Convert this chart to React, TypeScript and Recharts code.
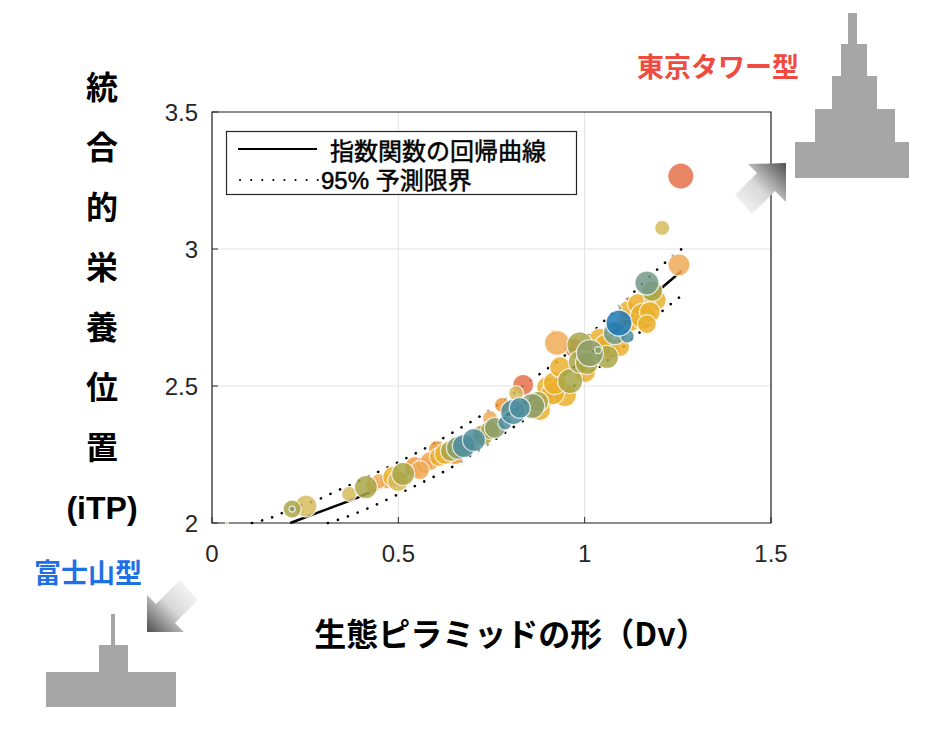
import React from 'react';
import { CartesianGrid, ComposedChart, Line, ReferenceArea, Scatter, XAxis, YAxis } from 'recharts';

const xTicks = [0, 0.5, 1, 1.5];
const yTicks = [2, 2.5, 3, 3.5];

// regression curve and 95% prediction bounds
const fitX = [0.21, 0.3, 0.4, 0.5, 0.6, 0.7, 0.8, 0.9, 1.0, 1.1, 1.2, 1.26];
const fitY = [2.0, 2.046, 2.098, 2.162, 2.232, 2.31, 2.4, 2.495, 2.6, 2.72, 2.85, 2.92];
const upperX = [0.107, 0.164, 0.223, 0.282, 0.335, 0.445, 0.553, 0.657, 0.762, 0.861, 0.91, 1.006, 1.1, 1.202, 1.26];
const upperY = [2.0, 2.022, 2.058, 2.084, 2.117, 2.186, 2.259, 2.339, 2.427, 2.526, 2.573, 2.679, 2.8, 2.934, 3.0];
const lowerX = [0.311, 0.368, 0.421, 0.478, 0.534, 0.588, 0.644, 0.72, 0.818, 0.93, 1.04, 1.14, 1.202, 1.26];
const lowerY = [2.0, 2.026, 2.055, 2.091, 2.128, 2.164, 2.204, 2.27, 2.358, 2.46, 2.57, 2.686, 2.766, 2.83];

// [Dv, iTP, bubble radius]
type Pt = [number, number, number];
const redOrange: Pt[] = [[0.835, 2.504, 10.5], [0.971, 2.639, 9.5], [1.258, 3.266, 13], [1.116, 2.818, 2]];
const orange: Pt[] = [
  [0.47, 2.153, 7.5], [0.545, 2.204, 10.5], [0.569, 2.212, 8.5], [0.604, 2.27, 8.5], [0.778, 2.431, 7.5],
  [0.915, 2.697, 2.5], [1.073, 2.631, 8.5], [0.738, 2.328, 7.5], [0.692, 2.285, 8.5], [0.652, 2.248, 9.5],
];
const lightOrange: Pt[] = [
  [0.432, 2.139, 7.5], [0.448, 2.153, 7.5], [0.585, 2.226, 9.5], [0.558, 2.193, 9.5], [0.746, 2.383, 7.5],
  [0.926, 2.657, 12.5], [1.253, 2.942, 11],
];
const yellow: Pt[] = [
  [0.486, 2.168, 10.5], [0.609, 2.241, 9.5], [0.625, 2.252, 10.5], [0.899, 2.496, 10.5], [0.899, 2.449, 7.5],
  [0.88, 2.412, 10.5], [0.947, 2.467, 11.5], [0.915, 2.474, 11.5], [0.92, 2.511, 11.5], [0.934, 2.569, 10.5],
  [1.001, 2.551, 10.5], [1.041, 2.668, 11.5], [1.055, 2.65, 10.5], [1.095, 2.642, 9.5], [1.122, 2.741, 11.5],
  [1.116, 2.777, 9.5], [1.143, 2.799, 10.5], [1.189, 2.814, 11], [1.157, 2.755, 13], [1.175, 2.77, 10.5],
  [1.167, 2.726, 9.5],
];
const khaki: Pt[] = [[0.04, 2.0, 1.5], [0.252, 2.062, 11], [0.368, 2.106, 7.5], [0.499, 2.153, 10.5], [0.816, 2.474, 7.5], [1.208, 3.077, 7.5]];
const olive: Pt[] = [
  [0.215, 2.051, 9], [0.413, 2.131, 11.5], [0.513, 2.179, 11.5], [0.641, 2.263, 10.5], [0.727, 2.321, 10.5],
  [0.746, 2.339, 9.5], [0.875, 2.442, 10.5], [0.961, 2.518, 12.5], [0.987, 2.65, 13], [0.987, 2.588, 11.5],
  [1.006, 2.584, 11.5], [1.06, 2.606, 11.5], [1.181, 2.847, 10.5],
];
const sage: Pt[] = [[0.215, 2.051, 3], [0.66, 2.274, 11.5], [0.759, 2.347, 10.5], [0.859, 2.427, 12.5], [1.014, 2.62, 13.5], [1.036, 2.631, 3.5], [1.095, 2.785, 2]];
const grayGreen: Pt[] = [[1.081, 2.693, 11.5], [1.167, 2.876, 12]];
const teal: Pt[] = [[0.676, 2.281, 11.5], [0.703, 2.303, 11.5], [0.786, 2.365, 7], [0.808, 2.405, 12.5], [0.826, 2.42, 10.5], [1.114, 2.682, 7]];
const blue: Pt[] = [[1.092, 2.73, 13]];

const groups = [
  { key: 'redOrange', color: '#E3704A', pts: redOrange },
  { key: 'orange', color: '#EE9A3A', pts: orange },
  { key: 'lightOrange', color: '#F0AA58', pts: lightOrange },
  { key: 'yellow', color: '#EAB02E', pts: yellow },
  { key: 'khaki', color: '#D6BB5C', pts: khaki },
  { key: 'olive', color: '#A9A647', pts: olive },
  { key: 'sage', color: '#8C9D68', pts: sage },
  { key: 'grayGreen', color: '#739A88', pts: grayGreen },
  { key: 'teal', color: '#4D8D9D', pts: teal },
  { key: 'blue', color: '#1D78B6', pts: blue },
];

const zip = (xs: number[], ys: number[]) => xs.map((x, i) => ({ x, y: ys[i] }));

const TICK = { fill: '#262626', fontSize: 24, fontFamily: 'Liberation Sans, Arial, sans-serif' };
const JP = '"Noto Sans CJK JP", sans-serif';
const yLabel = ['統', '合', '的', '栄', '養', '位', '置', '(iTP)'];

const Bubble = (props: any) => {
  const { cx, cy, payload, color } = props;
  if (cx == null || cy == null) return null;
  return (
    <circle cx={cx} cy={cy} r={payload.r} fill={color} fillOpacity={0.85}
      stroke="#ffffff" strokeOpacity={0.75} strokeWidth={1.3} />
  );
};

export default function App() {
  return (
    <div style={{ position: 'absolute', left: 0, top: 0, width: 934, height: 732, background: '#fff' }}>
      <ComposedChart width={934} height={732} margin={{ top: 112, right: 163, bottom: 179, left: 152 }}
        style={{ position: 'absolute', left: 0, top: 0 }}>
        <CartesianGrid stroke="#E2E2E2" strokeWidth={1} />
        <XAxis type="number" dataKey="x" domain={[0, 1.5]} ticks={xTicks} interval={0} height={30}
          axisLine={false} tickSize={-6} tickMargin={28} tickLine={{ stroke: '#262626' }} tick={TICK} />
        <YAxis type="number" dataKey="y" domain={[2, 3.5]} ticks={yTicks} interval={0} width={60}
          axisLine={false} tickSize={-6} tickMargin={20} tickLine={{ stroke: '#262626' }} tick={TICK} />
        <Line data={zip(fitX, fitY)} dataKey="y" type="monotone" stroke="#000" strokeWidth={2.5}
          dot={false} activeDot={false} isAnimationActive={false} />
        <Line data={zip(upperX, upperY)} dataKey="y" type="monotone" stroke="#000" strokeWidth={2.6}
          strokeDasharray="0.1 10.4" strokeLinecap="round" dot={false} activeDot={false} isAnimationActive={false} />
        <Line data={zip(lowerX, lowerY)} dataKey="y" type="monotone" stroke="#000" strokeWidth={2.6}
          strokeDasharray="0.1 10.4" strokeLinecap="round" dot={false} activeDot={false} isAnimationActive={false} />
        {groups.map((g) => (
          <Scatter key={g.key} data={g.pts.map(([x, y, r]) => ({ x, y, r }))} fill={g.color}
            shape={(p: any) => <Bubble {...p} color={g.color} />} isAnimationActive={false} />
        ))}
        <ReferenceArea x1={0} x2={1.5} y1={2} y2={3.5} fill="none" stroke="#262626" strokeWidth={1.2} />
      </ComposedChart>

      <svg width={934} height={732} style={{ position: 'absolute', left: 0, top: 0, pointerEvents: 'none' }}>
        <defs>
          <linearGradient id="arrUp" gradientUnits="userSpaceOnUse" x1={740} y1={208} x2={784} y2={165}>
            <stop offset="0" stopColor="#F4F4F4" />
            <stop offset="0.45" stopColor="#D8D8D8" />
            <stop offset="1" stopColor="#5A5A5A" />
          </linearGradient>
          <linearGradient id="arrDown" gradientUnits="userSpaceOnUse" x1={190} y1={589} x2={149} y2={630}>
            <stop offset="0" stopColor="#F4F4F4" />
            <stop offset="0.45" stopColor="#D8D8D8" />
            <stop offset="1" stopColor="#5A5A5A" />
          </linearGradient>
        </defs>

        {/* legend */}
        <rect x={226.5} y={131.5} width={350} height={63} fill="#fff" stroke="#262626" strokeWidth={1.2} />
        <line x1={238} y1={149} x2={317} y2={149} stroke="#000" strokeWidth={2.2} />
        <text x={330} y={149} dominantBaseline="central" fontSize={24} fontFamily={JP} fill="#000"
          stroke="#000" strokeWidth={0.5}>指数関数の回帰曲線</text>
        <line x1={240} y1={180} x2={318} y2={180} stroke="#000" strokeWidth={2} strokeDasharray="0.1 11" strokeLinecap="round" />
        <text x={321} y={180} dominantBaseline="central" fontSize={24} fontFamily={'Liberation Sans, ' + JP} fill="#000"
          stroke="#000" strokeWidth={0.5}>95% 予測限界</text>

        {/* y label, one character per line */}
        {yLabel.map((c, i) => (
          <text key={c} x={102} y={88 + i * 60} textAnchor="middle" dominantBaseline="central"
            fontSize={32} fontWeight="bold" fontFamily={'Liberation Sans, ' + JP} fill="#000">{c}</text>
        ))}
        <text x={511} y={632} textAnchor="middle" dominantBaseline="central" fontSize={32} fontWeight="bold"
          fontFamily={JP} fill="#000">生態ピラミッドの形（Dv）</text>

        {/* Tokyo tower type */}
        <text x={718} y={65} textAnchor="middle" dominantBaseline="central" fontSize={27} fontWeight="bold"
          fontFamily={JP} fill="#F04B41">東京タワー型</text>
        <g fill="#A6A6A6">
          <rect x={848} y={13} width={9} height={31} />
          <rect x={841} y={44} width={26} height={32} />
          <rect x={832} y={76} width={45} height={33} />
          <rect x={815} y={109} width={80} height={33} />
          <rect x={795} y={142} width={114} height={36} />
        </g>
        <polygon points="735,195 757,173 748,164 786,163 786,202 775,191 752,214" fill="url(#arrUp)" />

        {/* Mt Fuji type */}
        <text x={88} y={571} textAnchor="middle" dominantBaseline="central" fontSize={27} fontWeight="bold"
          fontFamily={JP} fill="#1F6FE5">富士山型</text>
        <g fill="#A6A6A6">
          <rect x={111} y={614} width={4} height={31} />
          <rect x={99} y={645} width={29} height={27} />
          <rect x={46} y={672} width={130} height={35} />
        </g>
        <polygon points="180,580 156,604 147,595 147,632 184,632 175,623 198,600" fill="url(#arrDown)" />
      </svg>
    </div>
  );
}
